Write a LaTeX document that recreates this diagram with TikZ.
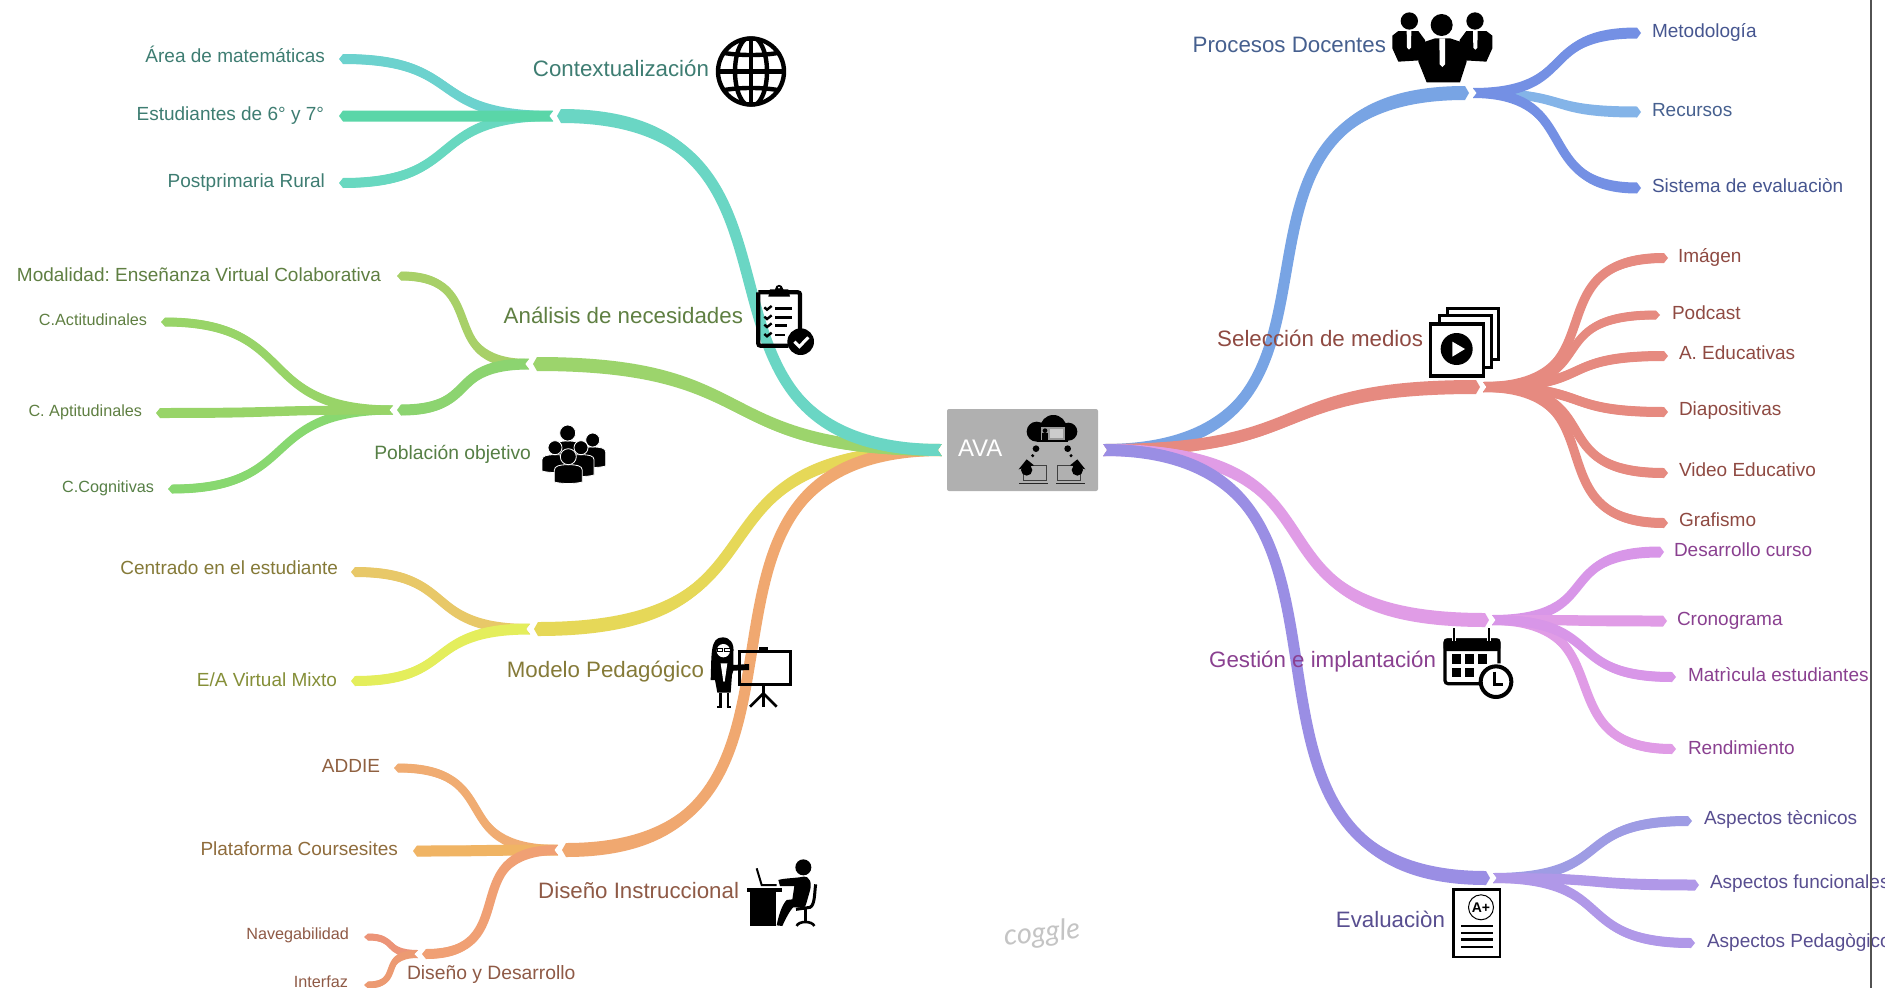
\documentclass[tikz,border=0pt]{standalone}
\usepackage{fontspec}
\setmainfont{Liberation Sans}
\newfontfamily\cogglefont{Lato}
\usetikzlibrary{calc}
\frenchspacing
\definecolor{cTeal}{HTML}{6AD6C4}\definecolor{cTealA}{HTML}{6CD2CE}\definecolor{cTealB}{HTML}{5AD6A8}\definecolor{cTealC}{HTML}{68D8C0}
\definecolor{cGreen}{HTML}{9CD46C}\definecolor{cGreenA}{HTML}{A8D068}\definecolor{cGreenB}{HTML}{98D468}\definecolor{cGreenC}{HTML}{8CD470}\definecolor{cGreenD}{HTML}{88D870}
\definecolor{cYellow}{HTML}{E6D858}\definecolor{cYellowA}{HTML}{E8C868}\definecolor{cYellowB}{HTML}{E4EE5C}
\definecolor{cOrange}{HTML}{F0A870}\definecolor{cOrangeA}{HTML}{F0AC72}\definecolor{cOrangeB}{HTML}{F0B464}\definecolor{cOrangeC}{HTML}{F0A074}\definecolor{cOrangeD}{HTML}{EC9478}\definecolor{cOrangeE}{HTML}{EC9A72}
\definecolor{cBlue}{HTML}{78A4E4}\definecolor{cBlueA}{HTML}{7490E4}\definecolor{cBlueB}{HTML}{84B4E8}
\definecolor{cSalmon}{HTML}{E68A80}
\definecolor{cPink}{HTML}{E09CE6}\definecolor{cPinkA}{HTML}{D896E8}
\definecolor{cPurple}{HTML}{9A8EE4}\definecolor{cPurpleA}{HTML}{9E9CE4}\definecolor{cPurpleB}{HTML}{B098E8}
\definecolor{tTeal}{HTML}{3E7D72}\definecolor{tGreen}{HTML}{5F7F42}\definecolor{tGreenB}{HTML}{567F45}
\definecolor{tYellow}{HTML}{857A38}\definecolor{tYellowB}{HTML}{858F38}
\definecolor{tOrange}{HTML}{8F6040}\definecolor{tOrangeB}{HTML}{8F6C3C}\definecolor{tRust}{HTML}{8F5A46}
\definecolor{tBlue}{HTML}{46608F}\definecolor{tBlueB}{HTML}{465690}
\definecolor{tSalmon}{HTML}{8F4A42}\definecolor{tPink}{HTML}{8A4090}\definecolor{tPurple}{HTML}{584E90}
% tapered branch: colour, from, to, width at from, width at to, direction, curve factor
\newcommand{\branch}[7]{%
  \path ($(#2)!#7!(#3)$) coordinate (tmpA);
  \path ($(#3)!#7!(#2)$) coordinate (tmpB);
  \coordinate (cA) at (tmpA |- #2);
  \coordinate (cB) at (tmpB |- #3);
  \pgfmathsetmacro{\brlw}{0.92*min(#4,#5)}
  \fill[#1] ($(#2)+(0,-#4/2)$) .. controls ($(cA)+(0,-#4/2)$) and ($(cB)+(0,-#5/2)$) .. ($(#3)+(-4*#6,-#5/2)$)
     -- (#3) -- ($(#3)+(-4*#6,#5/2)$) .. controls ($(cB)+(0,#5/2)$) and ($(cA)+(0,#4/2)$) .. ($(#2)+(0,#4/2)$)
     -- ($(#2)+(4*#6,0)$) -- cycle;
  \draw[#1,line width=\brlw pt] ($(#2)+(4*#6,0)$) .. controls (cA) and (cB) .. ($(#3)+(-4*#6,0)$);
}
% person of the group icon
\newcommand{\groupperson}[5]{%
  \fill[black,draw=white,line width=.8pt] ({#1-#4},{#5}) -- ({#1-#4},{#2+1.7*#3})
    .. controls ({#1-#4},{#2+#3+1}) and ({#1-.6*#4},{#2+#3}) .. ({#1},{#2+#3})
    .. controls ({#1+.6*#4},{#2+#3}) and ({#1+#4},{#2+#3+1}) .. ({#1+#4},{#2+1.7*#3})
    -- ({#1+#4},{#5}) .. controls ({#1+.5*#4},{#5+2}) and ({#1-.5*#4},{#5+2}) .. cycle;
  \fill[black,draw=white,line width=.8pt] (#1,#2) circle [radius=#3];
}
\tikzset{
  x=1pt,y=-1pt,
  lab/.style={inner sep=0pt,outer sep=0pt},
  mainl/.style={lab,font=\fontsize{22.3}{24}\selectfont},
  leafl/.style={lab,font=\fontsize{19}{22}\selectfont},
  midl/.style={lab,font=\fontsize{19.3}{22}\selectfont},
  smalll/.style={lab,font=\fontsize{16.2}{18}\selectfont},
  icon/.style={x=0.33333pt,y=-0.33333pt},
}
\begin{document}
\begin{tikzpicture}
\path[use as bounding box,clip] (0,0) rectangle (1885,988);
\fill[white] (0,0) rectangle (1885,988);

\node[fill=black!31,rounded corners=2pt,minimum width=151pt,minimum height=82pt,inner sep=0pt] (ava) at (1022.5,450) {};
\coordinate (avaL) at ($(ava.west)+(-5,0)$);
\coordinate (avaR) at ($(ava.east)+(5,0)$);

% junctions
\coordinate (ctx) at (557,116); \coordinate (ctxJ) at (553,116);
\coordinate (ana) at (533,364); \coordinate (anaJ) at (529,364);
\coordinate (pob) at (397,410); \coordinate (pobJ) at (393,410);
\coordinate (mod) at (534,629); \coordinate (modJ) at (530,629);
\coordinate (dis) at (562,850); \coordinate (disJ) at (558,850);
\coordinate (des) at (422,954); \coordinate (desJ) at (418,954);
\coordinate (pro) at (1469,93); \coordinate (proJ) at (1473,93);
\coordinate (sel) at (1480,387); \coordinate (selJ) at (1483,387);
\coordinate (ges) at (1489,620); \coordinate (gesJ) at (1492,620);
\coordinate (eva) at (1490,878); \coordinate (evaJ) at (1493,878);
% leaf ends
\coordinate (e1) at (339,59); \coordinate (e2) at (339,116); \coordinate (e3) at (339,183);
\coordinate (e4) at (397,276); \coordinate (e5) at (161,322); \coordinate (e6) at (156,413); \coordinate (e7) at (168,489);
\coordinate (e8) at (351,572); \coordinate (e9) at (351,681);
\coordinate (e10) at (394,768); \coordinate (e11) at (413,851); \coordinate (e12) at (364,937); \coordinate (e13) at (364,985);
\coordinate (r1) at (1641,33); \coordinate (r2) at (1641,112); \coordinate (r3) at (1641,188);
\coordinate (r4) at (1668,258); \coordinate (r5) at (1660,315); \coordinate (r6) at (1668,356); \coordinate (r7) at (1668,412); \coordinate (r8) at (1668,473); \coordinate (r9) at (1668,523);
\coordinate (r10) at (1664,552); \coordinate (r11) at (1667,621); \coordinate (r12) at (1676,677); \coordinate (r13) at (1676,749);
\coordinate (r14) at (1692,821); \coordinate (r15) at (1699,885); \coordinate (r16) at (1695,943);

% left branches
\branch{cTealA}{ctxJ}{e1}{10}{10}{-1}{.6}
\branch{cTealC}{ctxJ}{e3}{10}{10}{-1}{.6}
\branch{cTealB}{ctxJ}{e2}{11}{11}{-1}{.6}
\branch{cGreenA}{anaJ}{e4}{10}{9}{-1}{.72}
\branch{cGreenC}{anaJ}{pob}{11}{11}{-1}{.62}
\branch{cGreenB}{pobJ}{e5}{9}{9}{-1}{.6}
\branch{cGreenD}{pobJ}{e7}{9}{9}{-1}{.6}
\branch{cGreenB}{pobJ}{e6}{9}{10}{-1}{.6}
\branch{cYellowA}{modJ}{e8}{10}{10}{-1}{.6}
\branch{cYellowB}{modJ}{e9}{11}{10}{-1}{.6}
\branch{cOrangeA}{disJ}{e10}{10}{9}{-1}{.68}
\branch{cOrangeB}{disJ}{e11}{11}{11}{-1}{.6}
\branch{cOrangeC}{disJ}{des}{10}{10}{-1}{.75}
\branch{cOrangeD}{desJ}{e12}{8}{7}{-1}{.62}
\branch{cOrangeE}{desJ}{e13}{8}{7}{-1}{.72}
\branch{cYellow}{avaL}{mod}{12}{14}{-1}{.68}
\branch{cOrange}{avaL}{dis}{12}{14}{-1}{.82}
\branch{cGreen}{avaL}{ana}{12}{14}{-1}{.58}
\branch{cTeal}{avaL}{ctx}{12}{14}{-1}{.76}

% right branches
\branch{cBlueB}{proJ}{r2}{9}{11}{1}{.6}
\branch{cBlueA}{proJ}{r1}{10}{11}{1}{.62}
\branch{cBlueA}{proJ}{r3}{10}{11}{1}{.65}
\branch{cSalmon}{selJ}{r4}{10}{10}{1}{.74}
\branch{cSalmon}{selJ}{r5}{10}{9}{1}{.7}
\branch{cSalmon}{selJ}{r6}{10}{10}{1}{.62}
\branch{cSalmon}{selJ}{r7}{10}{10}{1}{.6}
\branch{cSalmon}{selJ}{r8}{10}{10}{1}{.7}
\branch{cSalmon}{selJ}{r9}{10}{10}{1}{.74}
\branch{cPink}{gesJ}{r13}{10}{10}{1}{.72}
\branch{cPinkA}{gesJ}{r10}{10}{11}{1}{.66}
\branch{cPink}{gesJ}{r11}{10}{11}{1}{.6}
\branch{cPinkA}{gesJ}{r12}{10}{10}{1}{.62}
\branch{cPurpleA}{evaJ}{r14}{10}{10}{1}{.62}
\branch{cPurpleB}{evaJ}{r16}{10}{10}{1}{.62}
\branch{cPurpleB}{evaJ}{r15}{10}{11}{1}{.6}
\branch{cBlue}{avaR}{pro}{12}{14}{1}{.82}
\branch{cSalmon}{avaR}{sel}{12}{14}{1}{.58}
\branch{cPink}{avaR}{ges}{12}{14}{1}{.7}
\branch{cPurple}{avaR}{eva}{12}{14}{1}{.82}

% labels
\node[lab,anchor=base west,text=white,font=\fontsize{24}{26}\selectfont] (avaT) at (958,456) {AVA};
\node[mainl,anchor=base east,text=tTeal] (l1) at (709,76) {Contextualización};
\node[leafl,anchor=base east,text=tTeal] (l2) at (325,62) {Área de matemáticas};
\node[leafl,anchor=base east,text=tTeal] (l3) at (324,120) {Estudiantes de 6° y 7°};
\node[leafl,anchor=base east,text=tTeal] (l4) at (325,187) {Postprimaria Rural};
\node[leafl,anchor=base east,text=tGreen] (l5) at (381,281) {Modalidad: Enseñanza Virtual Colaborativa};
\node[mainl,anchor=base east,text=tGreen] (l6) at (743,323) {Análisis de necesidades};
\node[smalll,anchor=base east,text=tGreen] (l7) at (147,325) {C.Actitudinales};
\node[smalll,anchor=base east,text=tGreen] (l8) at (142,416) {C. Aptitudinales};
\node[midl,anchor=base east,text=tGreenB] (l9) at (531,459) {Población objetivo};
\node[smalll,anchor=base east,text=tGreenB] (l10) at (154,492) {C.Cognitivas};
\node[leafl,anchor=base east,text=tYellow] (l11) at (338,574) {Centrado en el estudiante};
\node[leafl,anchor=base east,text=tYellowB] (l12) at (337,686) {E/A Virtual Mixto};
\node[mainl,anchor=base east,text=tYellow] (l13) at (704,677) {Modelo Pedagógico};
\node[leafl,anchor=base east,text=tOrange] (l14) at (380,772) {ADDIE};
\node[leafl,anchor=base east,text=tOrangeB] (l15) at (398,855) {Plataforma Coursesites};
\node[mainl,anchor=base east,text=tRust] (l16) at (739,898) {Diseño Instruccional};
\node[smalll,anchor=base east,text=tRust] (l17) at (349,939) {Navegabilidad};
\node[smalll,anchor=base east,text=tRust] (l18) at (348,987) {Interfaz};
\node[midl,anchor=base west,text=tRust] (l19) at (407,979) {Diseño y Desarrollo};

\node[mainl,anchor=base east,text=tBlue] (r20) at (1386,52) {Procesos Docentes};
\node[leafl,anchor=base west,text=tBlueB] (r21) at (1652,37) {Metodología};
\node[leafl,anchor=base west,text=tBlue] (r22) at (1652,116) {Recursos};
\node[leafl,anchor=base west,text=tBlueB] (r23) at (1652,192) {Sistema de evaluaciòn};
\node[mainl,anchor=base east,text=tSalmon] (r24) at (1423,346) {Selección de medios};
\node[leafl,anchor=base west,text=tSalmon] (r25) at (1678,262) {Imágen};
\node[leafl,anchor=base west,text=tSalmon] (r26) at (1672,319) {Podcast};
\node[leafl,anchor=base west,text=tSalmon] (r27) at (1679,359) {A. Educativas};
\node[leafl,anchor=base west,text=tSalmon] (r28) at (1679,415) {Diapositivas};
\node[leafl,anchor=base west,text=tSalmon] (r29) at (1679,476) {Video Educativo};
\node[leafl,anchor=base west,text=tSalmon] (r30) at (1679,526) {Grafismo};
\node[leafl,anchor=base west,text=tPink] (r31) at (1674,556) {Desarrollo curso};
\node[leafl,anchor=base west,text=tPink] (r32) at (1677,625) {Cronograma};
\node[leafl,anchor=base west,text=tPink] (r33) at (1688,681) {Matrìcula estudiantes};
\node[leafl,anchor=base west,text=tPink] (r34) at (1688,754) {Rendimiento};
\node[mainl,anchor=base east,text=tPink] (r35) at (1436,667) {Gestión e implantación};
\node[leafl,anchor=base west,text=tPurple] (r36) at (1704,824) {Aspectos tècnicos};
\node[leafl,anchor=base west,text=tPurple] (r37) at (1710,888) {Aspectos funcionales};
\node[leafl,anchor=base west,text=tPurple] (r38) at (1707,947) {Aspectos Pedagògicos};
\node[mainl,anchor=base east,text=tPurple] (r39) at (1445,927) {Evaluaciòn};
\node[lab,text=black!23,font=\cogglefont\itshape\fontsize{29}{30}\selectfont,rotate=6] (cog) at (1042,934) {coggle};

% globe
\begin{scope}[line width=4.4pt]
  \clip (751,71.5) circle [radius=35];
  \draw (751,71.5) circle [x radius=16,y radius=35];
  \draw (751,36) -- (751,107);
  \draw (716,71.5) -- (786,71.5);
  \draw (720,52) .. controls (735,56) and (767,56) .. (782,52);
  \draw (720,91) .. controls (735,87) and (767,87) .. (782,91);
\end{scope}
\draw[line width=4.4pt] (751,71.5) circle [radius=33];

% clipboard (zoom coordinates)
\begin{scope}[icon,shift={(535pt,-280pt)}]
  \draw[line width=4.2pt,rounded corners=2pt] (670,37) -- (670,197) -- (760,197);
  \draw[line width=4.2pt,rounded corners=2pt] (670,37) -- (795,37) -- (795,160);
  \fill (700,50) -- (705,28) -- (720,28) .. controls (722,10) and (742,10) .. (745,28) -- (760,28) -- (765,50) -- cycle;
  \fill[white] (732,23) circle [radius=3];
  \foreach \yy/\xx in {85/772,113/772,137/755,165/750}{
    \draw[line width=2.4pt] (688,\yy-3) -- (696,\yy+4) -- (710,\yy-7);
    \draw[line width=2.8pt] (720,\yy) -- (\xx,\yy);
  }
  \fill (797,185) circle [radius=40];
  \draw[white,line width=3pt] (778,185) -- (793,200) -- (820,172);
\end{scope}

% group of people
\groupperson{592.7}{440}{7}{13}{466}
\groupperson{567.7}{433}{8}{13}{470}
\groupperson{555}{447.7}{7}{13}{471}
\groupperson{581}{447.7}{7}{13}{475}
\groupperson{568.3}{456.7}{8}{14}{482}

% teacher at the board (zoom coordinates)
\begin{scope}[icon,shift={(700pt,-630pt)}]
  \draw[line width=2.6pt] (113,65) -- (272,65) -- (272,163) -- (118,163) -- (118,65);
  \fill (178,62) rectangle (203,52);
  \draw[line width=2.6pt] (190,163) -- (190,230);
  \draw[line width=2.6pt] (190,190) -- (150,230);
  \draw[line width=2.6pt] (190,190) -- (230,230);
  \fill (68,22) .. controls (30,22) and (35,70) .. (32,150) -- (45,150) -- (52,188) -- (92,188) -- (96,135) -- (100,122) -- (147,120) -- (147,102) -- (100,105) -- (100,70) .. controls (104,40) and (90,22) .. (68,22) -- cycle;
  \fill[white] (70,62) circle [radius=20];
  \fill[white] (62,100) -- (82,100) -- (74,155) -- (70,155) -- cycle;
  \draw[line width=.9pt] (52,55) rectangle (68,65) (72,55) rectangle (90,65);
  \draw[line width=2.4pt] (62,188) -- (62,230) (84,188) -- (84,230);
  \draw[line width=1.8pt] (52,231) -- (66,231) (80,231) -- (94,231);
\end{scope}

% person at desk (zoom coordinates)
\begin{scope}[icon,shift={(735pt,-850pt)}]
  \fill (35,113) rectangle (140,126);
  \fill (45,125) rectangle (122,228);
  \draw[line width=2pt] (65,55) -- (80,105) -- (125,105);
  \fill (205,52) circle [radius=24];
  \fill (130,90) .. controls (150,84) and (180,85) .. (205,80) .. controls (225,78) and (232,100) .. (224,125) -- (214,160) .. controls (212,178) and (200,172) .. (175,172) .. controls (165,180) and (150,210) .. (142,228) -- (125,226) .. controls (130,200) and (140,165) .. (155,150) -- (172,148) -- (178,108) -- (135,108) -- cycle;
  \draw[line width=3pt] (242,103) .. controls (238,130) and (240,165) .. (225,172) -- (183,178);
  \draw[line width=3pt] (212,178) -- (212,212);
  \draw[line width=2.6pt] (185,228) .. controls (190,212) and (232,212) .. (238,228);
\end{scope}

% business team (zoom coordinates)
\begin{scope}[icon,shift={(1385pt,-5pt)}]
  \fill (22,92) -- (40,78) -- (100,78) -- (120,105) -- (122,165) -- (40,170) -- (22,130) -- cycle;
  \fill (322,92) -- (304,78) -- (244,78) -- (224,105) -- (222,165) -- (304,170) -- (322,130) -- cycle;
  \fill (73,48) circle [radius=26];
  \fill (270,48) circle [radius=26];
  \fill (105,115) -- (150,100) -- (195,100) -- (240,115) -- (245,170) -- (225,232) -- (125,232) -- (100,170) -- cycle;
  \fill (170,60) circle [radius=33];
  \fill[white] (65,78) -- (79,78) -- (78,128) -- (72,134) -- (66,128) -- cycle;
  \fill[white] (264,78) -- (278,78) -- (277,128) -- (271,134) -- (265,128) -- cycle;
  \fill[white] (163,100) -- (180,100) -- (180,178) -- (172,186) -- (164,178) -- cycle;
\end{scope}

% video stack (zoom coordinates)
\begin{scope}[icon,shift={(1420pt,-300pt)}]
  \draw[line width=3pt,fill=white] (82,24) rectangle (235,178);
  \draw[line width=3pt,fill=white] (57,47) rectangle (213,203);
  \draw[line width=3.2pt,fill=white] (32,72) rectangle (190,228);
  \fill (110,147) circle [radius=48];
  \fill[white] (97,125) -- (97,170) -- (135,147) -- cycle;
\end{scope}

% calendar (zoom coordinates)
\begin{scope}[icon,shift={(1435pt,-625pt)}]
  \draw[line width=3.2pt,rounded corners=3pt] (150,176) -- (30,176) -- (30,45) -- (192,45) -- (192,115);
  \fill[rounded corners=3pt] (26,40) rectangle (196,78);
  \draw[white,line width=4pt] (57,5) -- (57,48) (162,5) -- (162,48);
  \draw[line width=2.4pt] (57,10) -- (57,48) (162,10) -- (162,48);
  \foreach \xa/\xb in {50/78,90/118,130/155}{\fill (\xa,88) rectangle (\xb,118);}
  \foreach \xa/\xb in {50/78,90/118}{\fill (\xa,130) rectangle (\xb,155);}
  \draw[line width=4pt,fill=white] (183,170) circle [radius=46];
  \draw[line width=3pt] (177,140) -- (177,178) -- (205,178);
\end{scope}

% grade sheet
\draw[line width=2.8pt,fill=white] (1453.5,889.5) rectangle (1500,957);
\draw[line width=1pt] (1481,907.3) circle [radius=12.5];
\node[lab,font=\bfseries\fontsize{14}{15}\selectfont] (grade) at (1481,907.3) {A+};
\foreach \yy in {925.7,932.7,939.3,946.7}{\draw[line width=2.4pt] (1461,\yy) -- (1493,\yy);}

% icon of the central node (zoom coordinates)
\begin{scope}[icon,shift={(930pt,-390pt)}]
  \fill (370,115) circle [radius=40];
  \fill (320,125) circle [radius=30];
  \fill (415,125) circle [radius=27];
  \fill (320,135) rectangle (415,155);
  \draw[line width=1pt,fill=black!40] (330,110) rectangle (405,150);
  \fill (345,122) circle [radius=7];
  \fill (337,130) rectangle (353,150);
  \fill[black!20] (360,118) rectangle (400,143);
  \fill (318,176) circle [radius=10];
  \fill (308,197) circle [radius=5];
  \fill (413,176) circle [radius=10];
  \fill (423,197) circle [radius=5];
  \draw[line width=1pt,black!75] (295,225) -- (350,225) -- (350,270) -- (280,270) -- (280,240);
  \draw[line width=1pt,black!75] (382,270) -- (382,225) -- (440,225);
  \draw[line width=1pt,black!75] (382,270) -- (452,270) -- (452,240);
  \draw[line width=1.4pt,black!85] (268,280) -- (355,280) (378,280) -- (465,280);
  \fill (290,240) circle [radius=17];
  \fill (442,240) circle [radius=17];
  \fill (266,238) -- (290,208) -- (312,226) -- cycle;
  \fill (466,238) -- (442,208) -- (420,226) -- cycle;
\end{scope}

% frame line
\draw[line width=1.5pt,black!68] (1871,0) -- (1871,988);
\end{tikzpicture}
\end{document}
